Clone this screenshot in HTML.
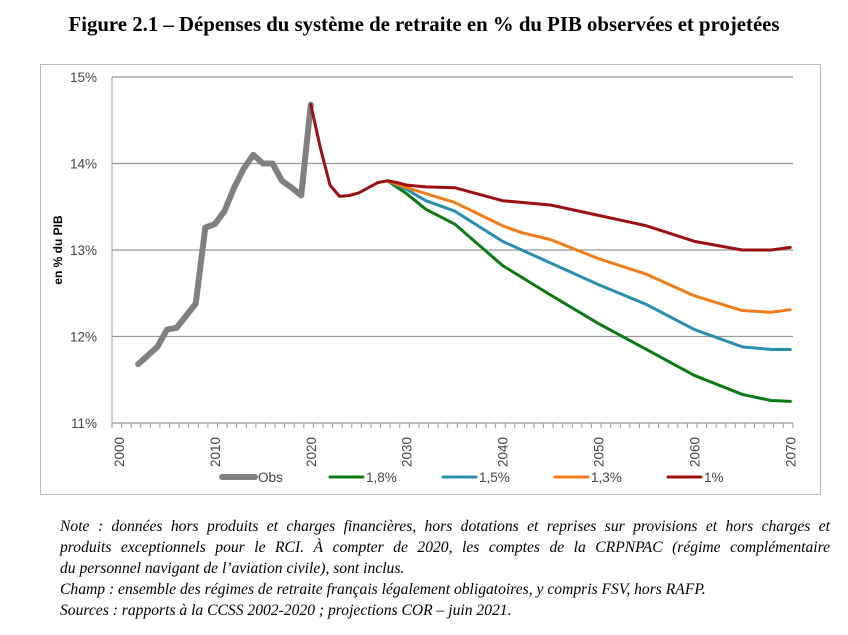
<!DOCTYPE html><html><head><meta charset="utf-8"><style>
body{margin:0;background:#fff;width:848px;height:635px;overflow:hidden;font-family:"Liberation Serif",serif}
#t{position:absolute;top:13px;left:0;width:848px;text-align:center;font-weight:bold;font-size:20.8px}
#n{position:absolute;left:60px;top:516px;width:770px;font-style:italic;font-size:15.6px;line-height:21px}
#n .j{display:block;text-align:justify;text-align-last:justify;white-space:nowrap}
#n .l{display:block;white-space:nowrap}
svg{position:absolute;left:0;top:0}
</style></head><body>
<div id="t">Figure 2.1 – Dépenses du système de retraite en % du PIB observées et projetées</div>
<svg id="s" width="848" height="635" font-family="Liberation Sans, sans-serif"></svg>
<div id="n"><span class="j">Note : données hors produits et charges financières, hors dotations et reprises sur provisions et hors charges et</span><span class="j">produits exceptionnels pour le RCI. À compter de 2020, les comptes de la CRPNPAC (régime complémentaire</span><span class="l">du personnel navigant de l’aviation civile), sont inclus.</span><span class="l">Champ : ensemble des régimes de retraite français légalement obligatoires, y compris FSV, hors RAFP.</span><span class="l">Sources : rapports à la CCSS 2002-2020 ; projections COR – juin 2021.</span></div>
<script>
var X=y=>119+9.59*(y-2000),Y=v=>423-(v-11)*86.5;
var h='<rect x="40.5" y="64.5" width="780" height="430" fill="none" stroke="#bbb"/>';
[15,14,13,12,11].forEach(v=>{h+='<line x1="112" x2="793" y1="'+Y(v)+'" y2="'+Y(v)+'" stroke="#999" stroke-width="1.2"/><text x="97" y="'+(Y(v)+5)+'" font-size="13.5" fill="#444" text-anchor="end">'+v+'%</text>';});
h+='<line x1="112" x2="112" y1="77" y2="423" stroke="#999"/>';
for(var i=0;i<=71;i++){var x=112+i*9.59;h+='<line x1="'+x+'" x2="'+x+'" y1="423" y2="428" stroke="#999"/>';}
for(var yr=2000;yr<=2070;yr+=10){h+='<text transform="translate('+(X(yr)+5)+',452) rotate(-90)" font-size="13.5" fill="#444" text-anchor="middle">'+yr+'</text>';}
h+='<text transform="translate(62,250) rotate(-90)" font-size="12" font-weight="bold" text-anchor="middle">en % du PIB</text>';
var S=[
['#808080',6,[[2002,11.68],[2003,11.78],[2004,11.88],[2005,12.08],[2006,12.1],[2007,12.24],[2008,12.38],[2009,13.26],[2010,13.3],[2011,13.45],[2012,13.72],[2013,13.94],[2014,14.1],[2015,14.0],[2016,14.0],[2017,13.8],[2018,13.72],[2019,13.63],[2020,14.68]]],
['#0b7a14',3,[[2028,13.8],[2030,13.65],[2032,13.47],[2035,13.3],[2040,12.82],[2045,12.48],[2050,12.15],[2055,11.85],[2060,11.55],[2065,11.33],[2068,11.26],[2070,11.25]]],
['#2a8fae',3,[[2028,13.8],[2030,13.7],[2032,13.57],[2035,13.45],[2040,13.1],[2045,12.85],[2050,12.6],[2055,12.37],[2060,12.08],[2065,11.88],[2068,11.85],[2070,11.85]]],
['#f07d1a',3,[[2028,13.8],[2030,13.72],[2035,13.55],[2040,13.28],[2042,13.2],[2045,13.12],[2050,12.9],[2055,12.72],[2060,12.47],[2065,12.3],[2068,12.28],[2070,12.31]]],
['#9b1010',3,[[2020,14.68],[2021,14.18],[2022,13.75],[2023,13.62],[2024,13.63],[2025,13.66],[2026,13.72],[2027,13.78],[2028,13.8],[2029,13.78],[2030,13.75],[2032,13.73],[2035,13.72],[2040,13.57],[2045,13.52],[2050,13.4],[2055,13.28],[2060,13.1],[2065,13.0],[2068,13.0],[2070,13.03]]]];
S.forEach(s=>{h+='<polyline fill="none" stroke="'+s[0]+'" stroke-width="'+s[1]+'" stroke-linejoin="round" stroke-linecap="round" points="'+s[2].map(p=>X(p[0])+','+Y(p[1])).join(' ')+'"/>';});
var L=[['#808080',6,222,'Obs'],['#0b7a14',3,330,'1,8%'],['#2a8fae',3,443,'1,5%'],['#f07d1a',3,555,'1,3%'],['#9b1010',3,668,'1%']];
L.forEach(l=>{h+='<line x1="'+l[2]+'" x2="'+(l[2]+33)+'" y1="477" y2="477" stroke="'+l[0]+'" stroke-width="'+l[1]+'" stroke-linecap="round"/><text x="'+(l[2]+36)+'" y="482" font-size="13.5" fill="#444">'+l[3]+'</text>';});
document.getElementById('s').innerHTML=h;
</script>
</body></html>
